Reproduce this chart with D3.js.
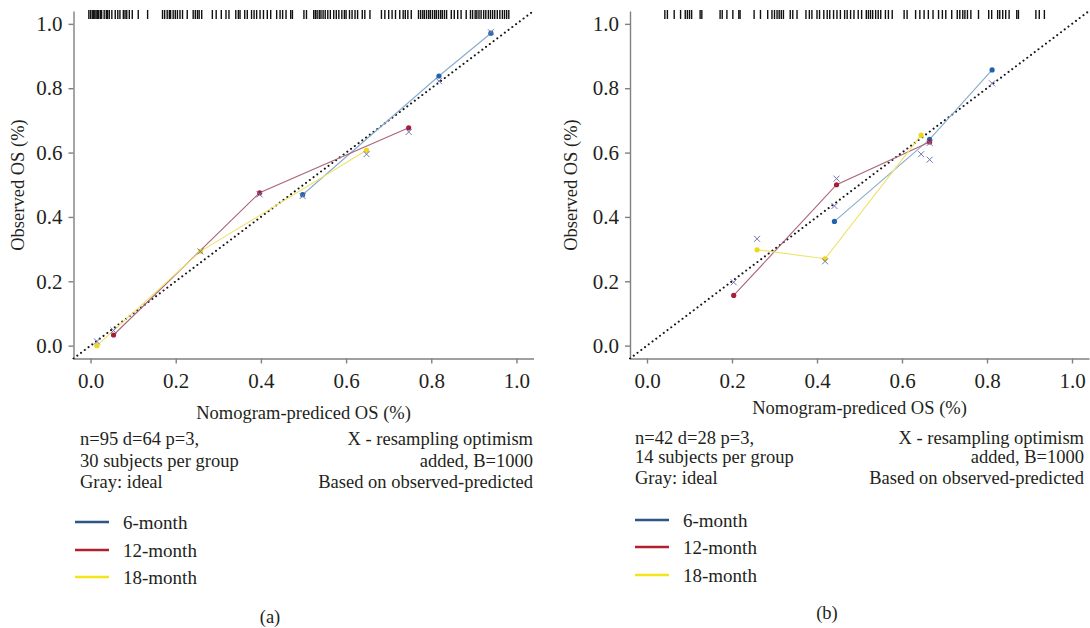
<!DOCTYPE html>
<html>
<head>
<meta charset="utf-8">
<script src="https://cdn.jsdelivr.net/npm/d3@7"></script>
<style>
  html, body { margin: 0; padding: 0; background: #fff; }
  svg { display: block; }
  text { font-family: "Liberation Serif", "Times New Roman", serif; fill: #231f20; }
  .axis path, .axis line { stroke: #808080; stroke-width: 1.4; }
  .axis text { font-size: 21px; fill: #231f20; }
</style>
</head>
<body>
<div id="chart-area"><svg></svg></div>
<script>
// ---- data ----
const groups = ["6-month", "12-month", "18-month"];
const axisTicks = [0, 0.2, 0.4, 0.6, 0.8, 1.0];
const xTitle = "Nomogram-prediced OS (%)";
const yTitle = "Observed OS (%)";
const notesRight = ["X - resampling optimism", "added, B=1000", "Based on observed-predicted"];

// panel (a): predicted, observed, optimism corrected (X), one row per group
const predA = [[0.498, 0.818, 0.940], [0.054, 0.397, 0.747], [0.015, 0.258, 0.648]];
const obsA = [[0.469, 0.838, 0.971], [0.033, 0.475, 0.677], [0.000, 0.293, 0.607]];
const corrA = [[0.465, 0.822, 0.974], [0.047, 0.470, 0.664], [0.013, 0.293, 0.595]];
const notesLeftA = ["n=95 d=64 p=3,", "30 subjects per group", "Gray: ideal"];
const rugA = [
  -0.004, 0.000, 0.004, 0.007, 0.010, 0.013, 0.016, 0.019, 0.023, 0.026, 0.032, 0.037, 0.040,
  0.044, 0.050, 0.058, 0.064, 0.069, 0.077, 0.081, 0.085, 0.091, 0.098, 0.112, 0.134,
  0.169, 0.174, 0.180, 0.185, 0.188, 0.194, 0.199, 0.204, 0.210, 0.216, 0.227, 0.241,
  0.246, 0.251, 0.255, 0.261, 0.286, 0.295, 0.307, 0.318, 0.325, 0.341, 0.347, 0.351,
  0.362, 0.368, 0.378, 0.384, 0.390, 0.398, 0.406, 0.415, 0.423, 0.437, 0.445, 0.451,
  0.459, 0.470, 0.474, 0.501, 0.507, 0.524, 0.528, 0.532, 0.537, 0.541, 0.546, 0.551,
  0.557, 0.563, 0.571, 0.577, 0.583, 0.590, 0.596, 0.600, 0.608, 0.614, 0.621, 0.627,
  0.638, 0.644, 0.656, 0.683, 0.691, 0.700, 0.708, 0.716, 0.726, 0.734, 0.739, 0.745,
  0.753, 0.770, 0.775, 0.780, 0.784, 0.789, 0.794, 0.798, 0.803, 0.808, 0.812, 0.817,
  0.822, 0.826, 0.831, 0.836, 0.847, 0.854, 0.862, 0.870, 0.882, 0.892, 0.897, 0.903,
  0.907, 0.912, 0.917, 0.923, 0.928, 0.934, 0.939, 0.944, 0.949, 0.955, 0.961, 0.967,
  0.972, 0.977, 0.982
];

// panel (b)
const predB = [[0.441, 0.665, 0.812], [0.204, 0.446, 0.665], [0.259, 0.419, 0.645]];
const obsB = [[0.386, 0.641, 0.857], [0.156, 0.500, 0.633], [0.298, 0.270, 0.654]];
const corrB = [[0.434, 0.630, 0.815], [0.197, 0.519, 0.578], [0.332, 0.262, 0.595]];
const notesLeftB = ["n=42 d=28 p=3,", "14 subjects per group", "Gray: ideal"];
const rugB = [
  0.042, 0.048, 0.064, 0.079, 0.090, 0.095, 0.100, 0.105, 0.125, 0.129, 0.172, 0.177,
  0.188, 0.202, 0.216, 0.219, 0.252, 0.267, 0.284, 0.294, 0.300, 0.306, 0.311, 0.316,
  0.321, 0.337, 0.343, 0.353, 0.374, 0.382, 0.388, 0.400, 0.406, 0.416, 0.424, 0.430,
  0.439, 0.447, 0.455, 0.465, 0.471, 0.479, 0.487, 0.497, 0.505, 0.516, 0.521, 0.526,
  0.531, 0.538, 0.544, 0.550, 0.561, 0.568, 0.577, 0.605, 0.612, 0.632, 0.642, 0.652,
  0.662, 0.673, 0.686, 0.695, 0.703, 0.717, 0.730, 0.736, 0.743, 0.748, 0.754, 0.762,
  0.780, 0.804, 0.811, 0.825, 0.830, 0.837, 0.844, 0.852, 0.870, 0.874, 0.915, 0.923, 0.935
];

// ---- styles ----
const lineColors = ["#88abd0", "#ad6478", "#eee36a"];
const dotColors = ["#1f63ad", "#a51d36", "#eed817"];
const legendColors = ["#2d5586", "#b0202f", "#f3e51a"];
const crossColor = "#7174b3";

const chartSize = { width: 1090, height: 628 };

const panels = [
  {
    pred: predA, obs: obsA, corr: corrA, rug: rugA, notesLeft: notesLeftA, tag: "(a)",
    x0: 73.5, x1: 533.5, yTitleX: 18, xTitleY: 419, noteLeftX: 80, noteRightX: 533,
    noteY: [445, 467, 488], legendX: 75, legendY: [522, 550, 577], tagX: 270, tagY: 623
  },
  {
    pred: predB, obs: obsB, corr: corrB, rug: rugB, notesLeft: notesLeftB, tag: "(b)",
    x0: 630, x1: 1089, yTitleX: 571, xTitleY: 414, noteLeftX: 635, noteRightX: 1084,
    noteY: [444, 463, 484], legendX: 635, legendY: [520, 547, 575], tagX: 827, tagY: 619
  }
];

const yTop = 11, yBottom = 358.5;

const drawPanel = function(svg, p) {
  const x = d3.scaleLinear().domain([-0.04, 1.04]).range([p.x0, p.x1]);
  const y = d3.scaleLinear().domain([-0.04, 1.04]).range([yBottom, yTop]);
  const g = svg.append("g");

  // axes
  g.append("g")
    .attr("class", "axis")
    .attr("transform", `translate(0, ${yBottom})`)
    .call(d3.axisBottom(x).tickValues(axisTicks).tickFormat(d3.format(".1f"))
      .tickSize(5).tickSizeOuter(0).tickPadding(10));

  g.append("g")
    .attr("class", "axis")
    .attr("transform", `translate(${p.x0}, 0)`)
    .call(d3.axisLeft(y).tickValues(axisTicks).tickFormat(d3.format(".1f"))
      .tickSize(5).tickSizeOuter(0).tickPadding(6));

  // rug of predicted values along the top
  g.selectAll(".rug").data(p.rug).enter().append("line")
    .attr("class", "rug")
    .attr("x1", d => x(d)).attr("x2", d => x(d))
    .attr("y1", 10).attr("y2", 19)
    .attr("stroke", "#111").attr("stroke-width", 1.4);

  // ideal line
  g.append("line")
    .attr("x1", x(-0.04)).attr("y1", y(-0.04))
    .attr("x2", x(1.04)).attr("y2", y(1.04))
    .attr("stroke", "#151515").attr("stroke-width", 2)
    .attr("stroke-linecap", "round")
    .attr("stroke-dasharray", "0.1 4.6");

  const line = d3.line().x(d => x(d[0])).y(d => y(d[1]));

  groups.forEach((name, i) => {
    const pts = p.pred[i].map((v, j) => [v, p.obs[i][j]]);
    g.append("path")
      .attr("d", line(pts))
      .attr("fill", "none")
      .attr("stroke", lineColors[i])
      .attr("stroke-width", 1.1);
    g.selectAll(".dot" + i).data(pts).enter().append("circle")
      .attr("cx", d => x(d[0])).attr("cy", d => y(d[1]))
      .attr("r", 2.6)
      .attr("fill", dotColors[i]);
  });

  groups.forEach((name, i) => {
    const pts = p.pred[i].map((v, j) => [v, p.corr[i][j]]);
    g.selectAll(".cross" + i).data(pts).enter().append("path")
      .attr("transform", d => `translate(${x(d[0])}, ${y(d[1])})`)
      .attr("d", "M-3,-3L3,3M-3,3L3,-3")
      .attr("stroke", crossColor)
      .attr("stroke-width", 1);
  });

  // titles
  g.append("text")
    .attr("x", (p.x0 + p.x1) / 2).attr("y", p.xTitleY)
    .attr("text-anchor", "middle").attr("font-size", 18.5)
    .text(xTitle);

  g.append("text")
    .attr("transform", `translate(${p.yTitleX + 6}, 185) rotate(-90)`)
    .attr("text-anchor", "middle").attr("font-size", 18.5)
    .text(yTitle);

  // notes
  p.notesLeft.forEach((t, i) => {
    g.append("text").attr("x", p.noteLeftX).attr("y", p.noteY[i])
      .attr("font-size", 18.5).text(t);
  });
  notesRight.forEach((t, i) => {
    g.append("text").attr("x", p.noteRightX).attr("y", p.noteY[i])
      .attr("text-anchor", "end").attr("font-size", 18.5).text(t);
  });

  // legend
  groups.forEach((name, i) => {
    g.append("line")
      .attr("x1", p.legendX).attr("x2", p.legendX + 34)
      .attr("y1", p.legendY[i]).attr("y2", p.legendY[i])
      .attr("stroke", legendColors[i]).attr("stroke-width", 2.4);
    g.append("text")
      .attr("x", p.legendX + 48).attr("y", p.legendY[i] + 6.5)
      .attr("font-size", 19).text(name);
  });

  g.append("text")
    .attr("x", p.tagX).attr("y", p.tagY)
    .attr("text-anchor", "middle").attr("font-size", 18.5)
    .text(p.tag);
};

const main = () => {
  const svg = d3.select("#chart-area svg")
    .attr("width", chartSize.width)
    .attr("height", chartSize.height);
  panels.forEach(p => drawPanel(svg, p));
};
window.onload = main;
</script>
</body>
</html>
